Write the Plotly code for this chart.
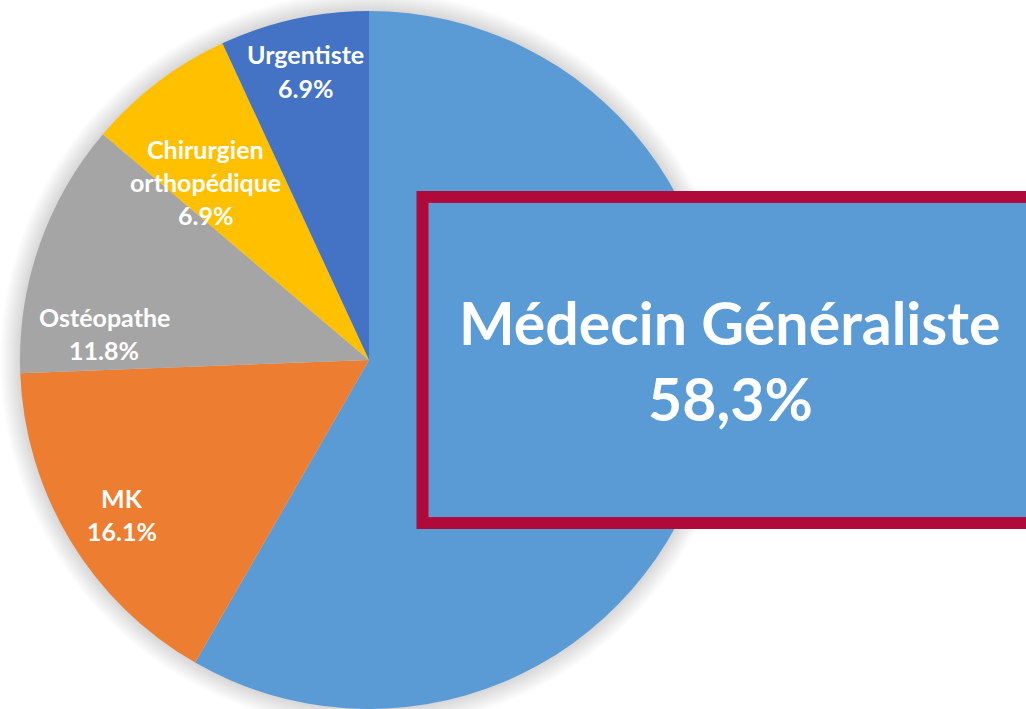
import plotly.graph_objects as go

# ---- data ----
categories = ["Médecin Généraliste", "MK", "Ostéopathe", "Chirurgien orthopédique", "Urgentiste"]
values = [58.3, 16.1, 11.8, 6.9, 6.9]
colors = ["#5B9BD5", "#ED7D31", "#A5A5A5", "#FFC000", "#4472C4"]
# label lines (text) for the small slices
slice_label_lines = {
    "MK": ["MK"],
    "Ostéopathe": ["Ostéopathe"],
    "Chirurgien orthopédique": ["Chirurgien", "orthopédique"],
    "Urgentiste": ["Urgentiste"],
}
# label block centres in pixels (layout)
label_pos = {
    "MK": (122, 514),
    "Ostéopathe": (104, 333),
    "Chirurgien orthopédique": (205, 182),
    "Urgentiste": (305, 71),
}

W, H = 1026, 709
CX, CY, R = 369, 360, 349


def px(x):
    return x / W


def py(y):
    return 1 - y / H


fig = go.Figure()
fig.add_trace(go.Pie(
    labels=categories,
    values=values,
    sort=False,
    direction="clockwise",
    rotation=0,
    marker=dict(colors=colors, line=dict(width=0)),
    textinfo="none",
    hoverinfo="label+percent",
    showlegend=False,
    domain=dict(x=[px(CX - R), px(CX + R)], y=[py(CY + R), py(CY - R)]),
))

shapes = []
# soft shadow around the pie
for k in range(20, 0, -1):
    rr = R + k
    shapes.append(dict(
        type="circle", xref="paper", yref="paper", layer="below",
        x0=px(CX - rr), x1=px(CX + rr), y0=py(CY + rr), y1=py(CY - rr),
        fillcolor="rgba(0,0,0,0.006)", line=dict(width=0),
    ))
# highlight box
shapes.append(dict(
    type="rect", xref="paper", yref="paper", layer="above",
    x0=px(422.5), x1=px(1045), y0=py(523), y1=py(197),
    fillcolor="#5B9BD5", line=dict(color="#B00A3A", width=12),
))

annotations = []
LS = 33
for cat, val in zip(categories, values):
    if cat not in slice_label_lines:
        continue
    lines = slice_label_lines[cat] + [f"{val}%"]
    cxp, cyp = label_pos[cat]
    n = len(lines)
    for i, t in enumerate(lines):
        yy = cyp + (i - (n - 1) / 2) * LS
        annotations.append(dict(
            x=px(cxp), y=py(yy), xref="paper", yref="paper",
            text=f"<b>{t}</b>", showarrow=False, xanchor="center", yanchor="middle",
            font=dict(family="Lato", size=25, color="white"),
        ))

# big label for the main slice
main_lines = [categories[0], f"{values[0]}%".replace(".", ",")]
for i, t in enumerate(main_lines):
    yy = 322 + i * 76
    annotations.append(dict(
        x=px(730), y=py(yy), xref="paper", yref="paper",
        text=f"<b>{t}</b>", showarrow=False, xanchor="center", yanchor="middle",
        font=dict(family="Lato", size=59, color="white"),
    ))

fig.update_layout(
    width=W, height=H,
    margin=dict(l=0, r=0, t=0, b=0),
    paper_bgcolor="white", plot_bgcolor="white",
    shapes=shapes, annotations=annotations,
)
fig.write_html(
    "out.html",
    config={"displayModeBar": False},
    post_script="document.body.style.margin='0';document.body.style.overflow='hidden';",
)
